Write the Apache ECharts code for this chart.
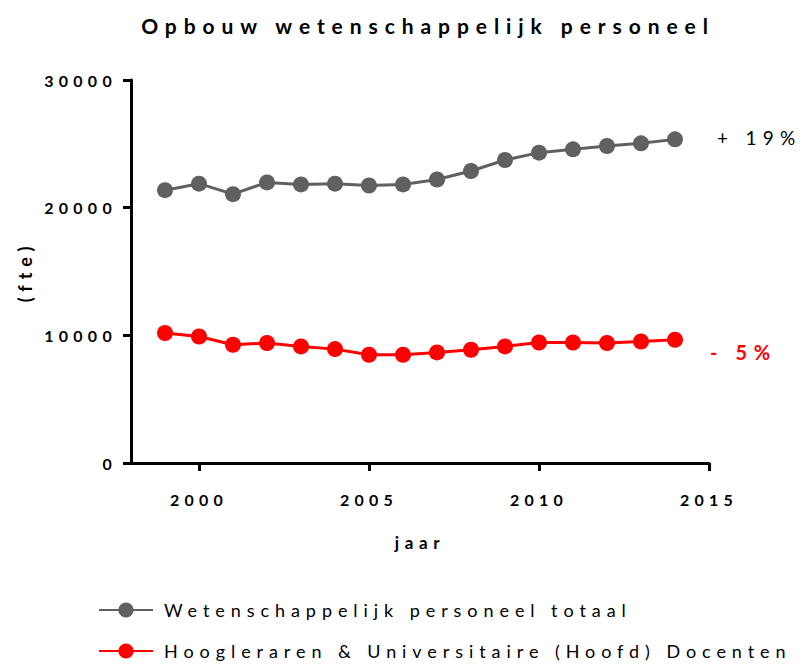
<!DOCTYPE html>
<html>
<head>
<meta charset="utf-8">
<title>Opbouw wetenschappelijk personeel</title>
<script src="https://cdn.jsdelivr.net/npm/echarts@6/dist/echarts.min.js"></script>
<style>
  html, body { margin: 0; padding: 0; background: #fff; }
  #main { width: 806px; height: 671px; }
  /* the reference text is widely letter-spaced */
  #main svg text { letter-spacing: 0.33em; }
</style>
</head>
<body>
<div id="main"></div>
<script>
// jaren
const years = [1999, 2000, 2001, 2002, 2003, 2004, 2005, 2006, 2007, 2008, 2009, 2010, 2011, 2012, 2013, 2014]
// Wetenschappelijk personeel totaal (fte)
const totaal = [21370, 21880, 21060, 21980, 21820, 21880, 21740, 21820, 22210, 22870, 23730, 24310, 24570, 24830, 25040, 25350]
// Hoogleraren & Universitaire (Hoofd) Docenten (fte)
const docenten = [10180, 9910, 9260, 9400, 9130, 8920, 8480, 8480, 8660, 8870, 9130, 9440, 9440, 9400, 9520, 9650]
const xTicks = [2000, 2005, 2010, 2015]
const seriesNames = ['Wetenschappelijk personeel totaal', 'Hoogleraren & Universitaire (Hoofd) Docenten']
const changeLabels = ['+ 19%', '- 5%']

const font = 'Lato'

const chart = echarts.init(document.getElementById('main'), null, { renderer: 'svg' })

const pairs = (vals) => years.map((y, i) => [y, vals[i]])
const plain = (v) => String(v)

chart.setOption({
  animation: false,
  title: {
    text: 'Opbouw wetenschappelijk personeel',
    left: 423,
    top: 10,
    textAlign: 'center',
    textStyle: { fontFamily: font, fontSize: 21, fontWeight: 'bold', color: '#000' }
  },
  grid: { left: 131, top: 80, width: 578, height: 383, containLabel: false },
  legend: {
    orient: 'vertical',
    left: 98,
    top: 601,
    padding: 0,
    itemWidth: 54,
    itemHeight: 19,
    itemGap: 23,
    textStyle: { fontFamily: font, fontSize: 18, color: '#000', padding: [0, 0, 0, 6] },
    data: seriesNames
  },
  xAxis: {
    type: 'value',
    min: 1998,
    max: 2015,
    name: 'jaar',
    nameLocation: 'middle',
    nameGap: 71,
    nameTextStyle: { fontFamily: font, fontSize: 17, fontWeight: 'bold', color: '#000' },
    axisLine: { lineStyle: { color: '#000', width: 3 } },
    axisTick: { customValues: xTicks, length: 8, lineStyle: { color: '#000', width: 3 } },
    axisLabel: {
      customValues: xTicks,
      formatter: plain,
      margin: 28,
      fontFamily: font, fontSize: 16, fontWeight: 'bold', color: '#000'
    },
    splitLine: { show: false }
  },
  yAxis: {
    type: 'value',
    min: 0,
    max: 30000,
    interval: 10000,
    name: '(fte)',
    nameLocation: 'middle',
    nameRotate: 90,
    nameGap: 97,
    nameTextStyle: { fontFamily: font, fontSize: 18, fontWeight: 'bold', color: '#000' },
    axisLine: { show: true, lineStyle: { color: '#000', width: 3 } },
    axisTick: { show: true, length: 8, lineStyle: { color: '#000', width: 3 } },
    axisLabel: { formatter: plain, margin: 14, fontFamily: font, fontSize: 16, fontWeight: 'bold', color: '#000' },
    splitLine: { show: false }
  },
  series: [
    {
      name: seriesNames[0],
      type: 'line',
      data: pairs(totaal),
      symbol: 'circle',
      symbolSize: 16,
      color: '#606060',
      lineStyle: { width: 3, color: '#606060' },
      endLabel: {
        show: true,
        formatter: changeLabels[0],
        distance: 42,
        offset: [0, -2],
        fontFamily: font, fontSize: 19, color: '#000'
      }
    },
    {
      name: seriesNames[1],
      type: 'line',
      data: pairs(docenten),
      symbol: 'circle',
      symbolSize: 16,
      color: '#ff0000',
      lineStyle: { width: 3, color: '#ff0000' },
      endLabel: {
        show: true,
        formatter: changeLabels[1],
        distance: 35,
        offset: [0, 12],
        fontFamily: font, fontSize: 20, fontWeight: 'bold', color: '#ff0000'
      }
    }
  ]
})
</script>
</body>
</html>
